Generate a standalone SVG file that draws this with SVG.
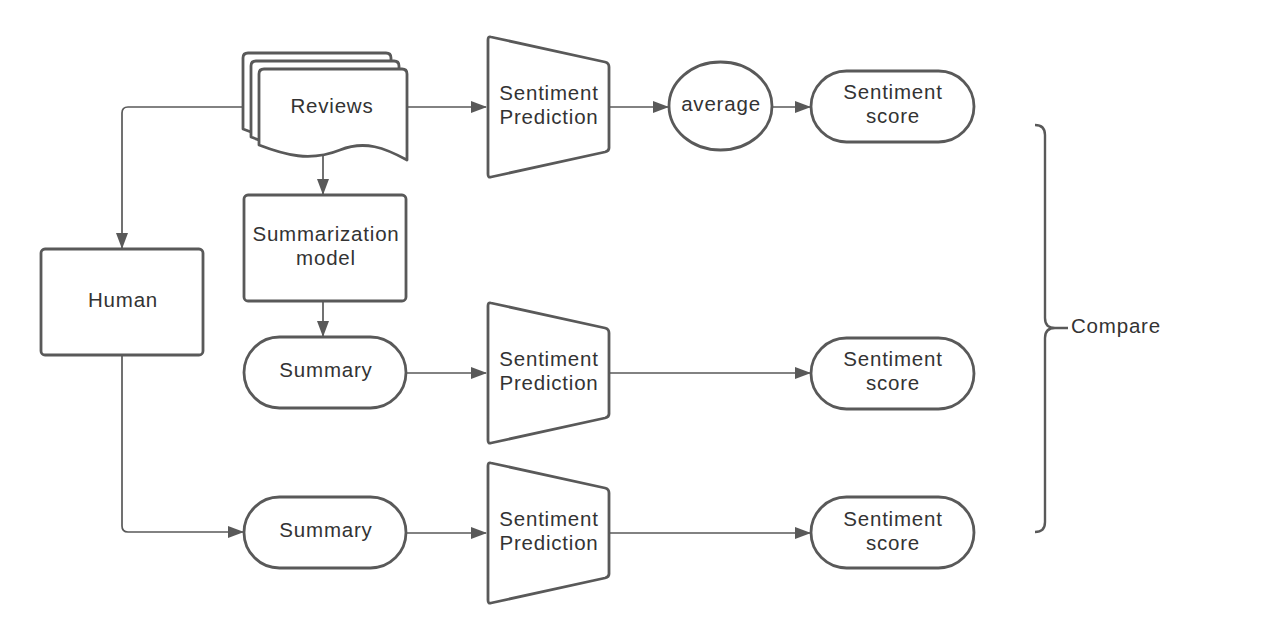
<svg xmlns="http://www.w3.org/2000/svg" width="1279" height="641" viewBox="0 0 1279 641">
<style>
.s{fill:#fff;stroke:#595959;stroke-width:2.8;stroke-linejoin:round}
.c{fill:none;stroke:#595959;stroke-width:1.7}
.t{font-family:"Liberation Sans",Arial,sans-serif;font-size:20.5px;letter-spacing:0.8px;fill:#333;text-anchor:middle}
</style>
<defs>
<marker id="a" markerWidth="16" markerHeight="12" refX="15" refY="6" orient="auto" markerUnits="userSpaceOnUse">
<path d="M0,0 L16,6 L0,12 Z" fill="#595959"/>
</marker>
<path id="doc" d="M264,69 L402,69 Q407,69 407,74 L407,160 C385,148 365,140 340,150 C310,162 285,155 259,145 L259,74 Q259,69 264,69 Z"/>
</defs>
<rect width="1279" height="641" fill="#fff"/>
<g id="connectors">
<path class="c" d="M243,107 L128,107 Q122,107 122,113 L122,248" marker-end="url(#a)"/>
<path class="c" d="M407,107 L486,107" marker-end="url(#a)"/>
<path class="c" d="M609,107 L668,107" marker-end="url(#a)"/>
<path class="c" d="M772,107 L810,107" marker-end="url(#a)"/>
<path class="c" d="M323,156 L323,194" marker-end="url(#a)"/>
<path class="c" d="M323,301 L323,336" marker-end="url(#a)"/>
<path class="c" d="M406,373 L486,373" marker-end="url(#a)"/>
<path class="c" d="M609,373 L810,373" marker-end="url(#a)"/>
<path class="c" d="M122,355 L122,526 Q122,532 128,532 L243,532" marker-end="url(#a)"/>
<path class="c" d="M406,533 L486,533" marker-end="url(#a)"/>
<path class="c" d="M609,533 L810,533" marker-end="url(#a)"/>
</g>
<g id="reviews">
<use href="#doc" class="s" transform="translate(-16,-16)"/>
<use href="#doc" class="s" transform="translate(-8,-8)"/>
<use href="#doc" class="s"/>
<text class="t" x="332" y="113">Reviews</text>
</g>
<g id="sp1">
<path class="s" d="M491,37 L605,62 Q609,63 609,67 L609,148 Q609,151 605,152 L491,177 Q488,178 488,174 L488,40 Q488,36 491,37 Z"/>
<text class="t" x="549" y="100">Sentiment</text>
<text class="t" x="549" y="124">Prediction</text>
</g>
<g id="average">
<ellipse class="s" cx="720.5" cy="106" rx="51.5" ry="44"/>
<text class="t" x="721" y="111">average</text>
</g>
<g id="score1">
<rect class="s" x="811" y="71" width="163" height="71" rx="35.5"/>
<text class="t" x="893" y="99">Sentiment</text>
<text class="t" x="893" y="123">score</text>
</g>
<g id="summarization">
<rect class="s" x="244" y="195" width="162" height="106" rx="4"/>
<text class="t" x="326" y="241">Summarization</text>
<text class="t" x="326" y="265">model</text>
</g>
<g id="human">
<rect class="s" x="41" y="249" width="162" height="106" rx="4"/>
<text class="t" x="123" y="307">Human</text>
</g>
<g id="summary1">
<rect class="s" x="244" y="337" width="162" height="71" rx="35.5"/>
<text class="t" x="326" y="377">Summary</text>
</g>
<g id="sp2">
<path class="s" d="M491,303 L605,328 Q609,329 609,333 L609,414 Q609,417 605,418 L491,443 Q488,444 488,440 L488,306 Q488,302 491,303 Z"/>
<text class="t" x="549" y="366">Sentiment</text>
<text class="t" x="549" y="390">Prediction</text>
</g>
<g id="score2">
<rect class="s" x="811" y="338" width="163" height="71" rx="35.5"/>
<text class="t" x="893" y="366">Sentiment</text>
<text class="t" x="893" y="390">score</text>
</g>
<g id="summary2">
<rect class="s" x="244" y="497" width="162" height="71" rx="35.5"/>
<text class="t" x="326" y="537">Summary</text>
</g>
<g id="sp3">
<path class="s" d="M491,463 L605,488 Q609,489 609,493 L609,574 Q609,577 605,578 L491,603 Q488,604 488,600 L488,466 Q488,462 491,463 Z"/>
<text class="t" x="549" y="526">Sentiment</text>
<text class="t" x="549" y="550">Prediction</text>
</g>
<g id="score3">
<rect class="s" x="811" y="497" width="163" height="71" rx="35.5"/>
<text class="t" x="893" y="526">Sentiment</text>
<text class="t" x="893" y="550">score</text>
</g>
<g id="compare">
<path d="M1035,125 Q1045,125 1045,135 L1045,318 Q1045,328 1055,328 L1068,328 M1055,328 Q1045,328 1045,338 L1045,522 Q1045,532 1035,532" fill="none" stroke="#595959" stroke-width="2.4"/>
<text class="t" x="1071" y="333" style="text-anchor:start">Compare</text>
</g>
</svg>
